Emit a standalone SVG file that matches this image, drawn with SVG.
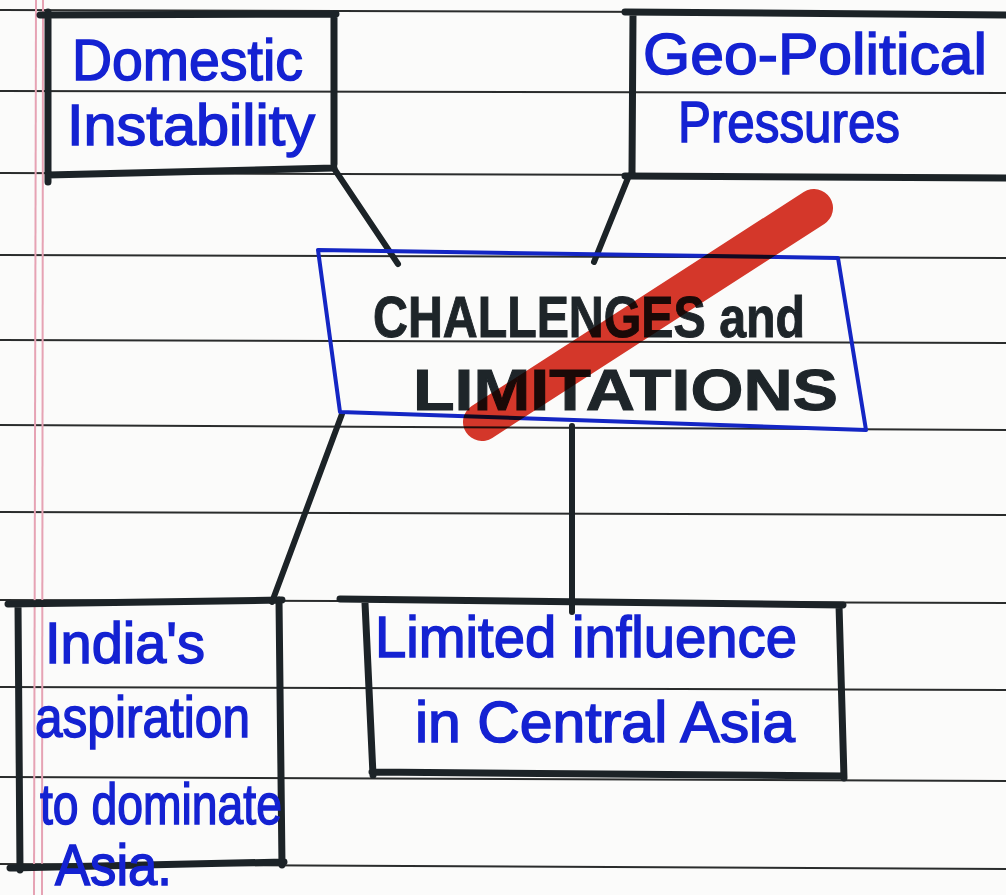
<svg xmlns="http://www.w3.org/2000/svg" width="1006" height="895" viewBox="0 0 1006 895">
  <defs>
    <style>
      .rule { stroke: #2a2c2c; stroke-width: 2; fill: none; }
      .margin { stroke: #e6a3b4; stroke-width: 2; fill: none; }
      .box { stroke: #1c2327; stroke-width: 7; fill: none; stroke-linecap: round; }
      .link { stroke: #1c2327; stroke-width: 6; fill: none; stroke-linecap: round; }
      .hub { stroke: #1426c4; stroke-width: 4; fill: none; stroke-linejoin: round; }
      .ink { fill: #1422d2; stroke: #1422d2; stroke-width: 1.5; font-family: "Liberation Sans", "DejaVu Sans", sans-serif; font-size: 58px; }
      .marker { fill: #1e2529; stroke: #1e2529; stroke-width: 1; font-family: "Liberation Sans", "DejaVu Sans", sans-serif; font-weight: bold; font-size: 58px; }
      .strike { stroke: #d8382a; stroke-width: 38; stroke-linecap: round; fill: none; mix-blend-mode: multiply; }
    </style>
  </defs>

  <!-- paper -->
  <rect x="0" y="0" width="1006" height="895" fill="#fbfbfa"/>

  <!-- ruled lines -->
  <g id="ruling">
    <line class="rule" x1="0" y1="10" x2="1006" y2="13"/>
    <line class="rule" x1="0" y1="91" x2="1006" y2="93"/>
    <line class="rule" x1="0" y1="173" x2="1006" y2="176"/>
    <line class="rule" x1="0" y1="255" x2="1006" y2="258"/>
    <line class="rule" x1="0" y1="340" x2="1006" y2="343"/>
    <line class="rule" x1="0" y1="425" x2="1006" y2="430"/>
    <line class="rule" x1="0" y1="512" x2="1006" y2="515"/>
    <line class="rule" x1="0" y1="600" x2="1006" y2="603"/>
    <line class="rule" x1="0" y1="687" x2="1006" y2="690"/>
    <line class="rule" x1="0" y1="777" x2="1006" y2="781"/>
    <line class="rule" x1="0" y1="864" x2="1006" y2="869"/>
    <line class="margin" x1="36" y1="0" x2="34" y2="895"/>
    <line class="margin" x1="43" y1="0" x2="42" y2="895"/>
  </g>

  <!-- connectors -->
  <g id="connectors">
    <line class="link" x1="335" y1="170" x2="398" y2="264"/>
    <line class="link" x1="628" y1="178" x2="594" y2="262"/>
    <line class="link" x1="342" y1="414" x2="272" y2="602"/>
    <line class="link" x1="572" y1="426" x2="572" y2="612"/>
  </g>

  <!-- Domestic Instability -->
  <g id="node-domestic">
    <path class="box" d="M40 15 L336 14 M334 14 L334 164 M48 175 L334 168 M48 12 L48 182"/>
    <text class="ink" x="72" y="80" textLength="231" lengthAdjust="spacingAndGlyphs">Domestic</text>
    <text class="ink" x="67" y="145" textLength="248" lengthAdjust="spacingAndGlyphs">Instability</text>
  </g>

  <!-- Geo-Political Pressures -->
  <g id="node-geopolitical">
    <path class="box" d="M625 12 L1010 15 M633 15 L632 172 M625 176 L1010 178"/>
    <text class="ink" x="643" y="74" textLength="344" lengthAdjust="spacingAndGlyphs">Geo-Political</text>
    <text class="ink" x="678" y="142" textLength="222" lengthAdjust="spacingAndGlyphs">Pressures</text>
  </g>

  <!-- Challenges and Limitations -->
  <g id="node-challenges">
    <path class="hub" d="M318 250 L838 258 L866 430 L340 412 Z"/>
    <text class="marker" x="373" y="337" textLength="432" lengthAdjust="spacingAndGlyphs">CHALLENGES and</text>
    <text class="marker" x="413" y="410" textLength="425" lengthAdjust="spacingAndGlyphs">LIMITATIONS</text>
    <line class="strike" x1="482" y1="422" x2="814" y2="208"/>
  </g>

  <!-- India's aspiration to dominate Asia -->
  <g id="node-india">
    <path class="box" d="M8 604 L282 600 M279 600 L282 865 M10 868 L284 862 M18 604 L20 870"/>
    <text class="ink" x="45" y="663" textLength="160" lengthAdjust="spacingAndGlyphs">India's</text>
    <text class="ink" x="35" y="737" textLength="215" lengthAdjust="spacingAndGlyphs">aspiration</text>
    <text class="ink" x="40" y="824" font-size="54" textLength="242" lengthAdjust="spacingAndGlyphs">to dominate</text>
    <text class="ink" x="55" y="885" font-size="46" textLength="117" lengthAdjust="spacingAndGlyphs">Asia.</text>
  </g>

  <!-- Limited influence in Central Asia -->
  <g id="node-limited">
    <path class="box" d="M340 599 L843 605 M365 603 L373 775 M839 605 L844 778 M372 772 L844 776"/>
    <text class="ink" x="375" y="657" textLength="422" lengthAdjust="spacingAndGlyphs">Limited influence</text>
    <text class="ink" x="415" y="742" textLength="380" lengthAdjust="spacingAndGlyphs">in Central Asia</text>
  </g>
</svg>
